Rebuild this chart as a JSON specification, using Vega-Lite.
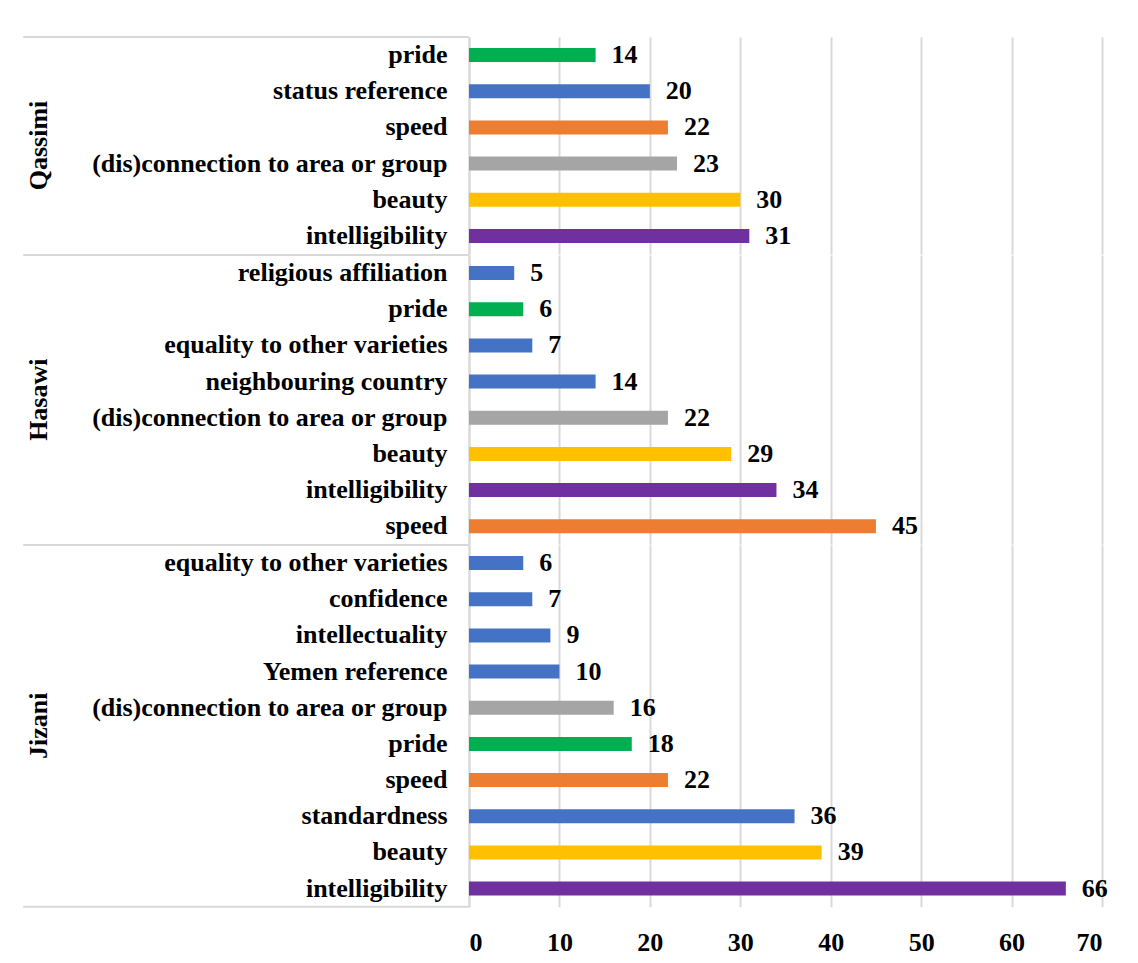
{
  "$schema": "https://vega.github.io/schema/vega-lite/v6.json",
  "padding": {"left": 22, "top": 36, "right": 5, "bottom": 5},
  "background": "white",
  "bounds": "flush",
  "data": {"values": [
    {"group": "Qassimi", "cat": "pride", "value": 14},
    {"group": "Qassimi", "cat": "status reference ", "value": 20},
    {"group": "Qassimi", "cat": "speed", "value": 22},
    {"group": "Qassimi", "cat": "(dis)connection to area or group", "value": 23},
    {"group": "Qassimi", "cat": "beauty", "value": 30},
    {"group": "Qassimi", "cat": "intelligibility", "value": 31},
    {"group": "Hasawi", "cat": "religious affiliation", "value": 5},
    {"group": "Hasawi", "cat": "pride", "value": 6},
    {"group": "Hasawi", "cat": "equality to other varieties", "value": 7},
    {"group": "Hasawi", "cat": "neighbouring country", "value": 14},
    {"group": "Hasawi", "cat": "(dis)connection to area or group", "value": 22},
    {"group": "Hasawi", "cat": "beauty", "value": 29},
    {"group": "Hasawi", "cat": "intelligibility", "value": 34},
    {"group": "Hasawi", "cat": "speed", "value": 45},
    {"group": "Jizani", "cat": "equality to other varieties", "value": 6},
    {"group": "Jizani", "cat": "confidence", "value": 7},
    {"group": "Jizani", "cat": "intellectuality", "value": 9},
    {"group": "Jizani", "cat": "Yemen reference", "value": 10},
    {"group": "Jizani", "cat": "(dis)connection to area or group", "value": 16},
    {"group": "Jizani", "cat": "pride", "value": 18},
    {"group": "Jizani", "cat": "speed", "value": 22},
    {"group": "Jizani", "cat": "standardness", "value": 36},
    {"group": "Jizani", "cat": "beauty", "value": 39},
    {"group": "Jizani", "cat": "intelligibility", "value": 66}
  ]},
  "facet": {
    "row": {
      "field": "group", "type": "nominal",
      "sort": ["Qassimi", "Hasawi", "Jizani"],
      "header": {
        "title": null,
        "labelAngle": -90,
        "labelOrient": "left",
        "labelFont": "Liberation Serif",
        "labelFontSize": 26,
        "labelFontWeight": "bold",
        "labelColor": "black",
        "labelPadding": 404
      }
    }
  },
  "spacing": 0,
  "resolve": {"scale": {"y": "independent"}},
  "spec": {
    "width": 633,
    "height": {"step": 36.17},
    "transform": [
      {"joinaggregate": [{"op": "min", "field": "value", "as": "mn"}, {"op": "max", "field": "value", "as": "mx"}], "groupby": ["group"]}
    ],
    "encoding": {
      "y": {
        "field": "cat", "type": "nominal",
        "sort": {"field": "value", "op": "min", "order": "ascending"},
        "scale": {"paddingInner": 0, "paddingOuter": 0},
        "title": null,
        "axis": {
          "domainColor": "#d9d9d9", "domainWidth": 2,
          "ticks": false,
          "labelFont": "Liberation Serif", "labelFontSize": 26, "labelFontWeight": "bold",
          "labelColor": "black", "labelPadding": 22, "labelLimit": 600
        }
      }
    },
    "layer": [
      {
        "mark": {"type": "bar", "size": 14},
        "encoding": {
          "x": {
            "field": "value", "type": "quantitative",
            "scale": {"domain": [0, 70]},
            "title": null,
            "axis": {
              "values": [0, 10, 20, 30, 40, 50, 60, 70],
              "domain": false, "ticks": false,
              "gridColor": "#d9d9d9", "gridWidth": 2,
              "labelFont": "Liberation Serif", "labelFontSize": 26, "labelFontWeight": "bold",
              "labelColor": "black", "labelPadding": 22
            }
          },
          "color": {
            "field": "cat", "type": "nominal", "legend": null,
            "scale": {
              "domain": ["pride", "status reference ", "speed", "(dis)connection to area or group", "beauty", "intelligibility", "religious affiliation", "equality to other varieties", "neighbouring country", "confidence", "intellectuality", "Yemen reference", "standardness"],
              "range": ["#00b050", "#4472c4", "#ed7d31", "#a5a5a5", "#ffc000", "#7030a0", "#4472c4", "#4472c4", "#4472c4", "#4472c4", "#4472c4", "#4472c4", "#4472c4"]
            }
          }
        }
      },
      {
        "mark": {"type": "text", "align": "left", "baseline": "middle", "dx": 16, "font": "Liberation Serif", "fontSize": 26, "fontWeight": "bold", "color": "black"},
        "encoding": {
          "x": {"field": "value", "type": "quantitative"},
          "text": {"field": "value", "type": "quantitative"}
        }
      },
      {
        "mark": {"type": "rule", "color": "#d9d9d9", "strokeWidth": 2},
        "encoding": {
          "y": {"field": "cat", "type": "nominal", "sort": {"field": "value", "op": "min", "order": "ascending"}, "bandPosition": 0},
          "x": {"datum": -49.3},
          "x2": {"datum": 0},
          "strokeOpacity": {"condition": {"test": "datum.value == datum.mn", "value": 1}, "value": 0}
        }
      },
      {
        "mark": {"type": "rule", "color": "#d9d9d9", "strokeWidth": 2},
        "encoding": {
          "y": {"field": "cat", "type": "nominal", "sort": {"field": "value", "op": "min", "order": "ascending"}, "bandPosition": 1},
          "x": {"datum": -49.3},
          "x2": {"datum": 0},
          "strokeOpacity": {"condition": {"test": "datum.value == datum.mx && datum.group == 'Jizani'", "value": 1}, "value": 0}
        }
      }
    ]
  },
  "config": {
    "view": {"stroke": null},
    "font": "Liberation Serif"
  }
}
